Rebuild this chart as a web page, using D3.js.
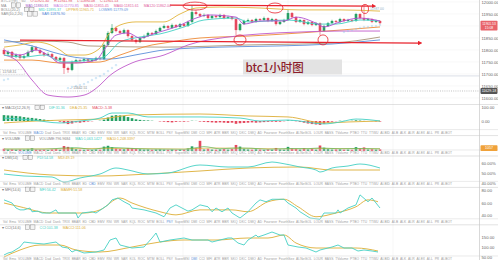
<!DOCTYPE html>
<html>
<head>
<meta charset="utf-8">
<script src="https://cdn.jsdelivr.net/npm/d3@7"></script>
<style>
  html, body { margin: 0; padding: 0; background: #fff; }
  svg { display: block; }
</style>
</head>
<body>
<script>
// ---- data (1h BTC candles, index 0..94) ----
const FIRST_OPEN = 11800;
const CLOSES = [
  11783, 11792, 11771, 11779, 11767, 11775, 11792, 11812, 11800, 11787,
  11779, 11783, 11771, 11758, 11767, 11725, 11717, 11750, 11758, 11754,
  11762, 11754, 11758, 11767, 11762, 11821, 11871, 11892, 11879, 11871,
  11883, 11858, 11842, 11833, 11850, 11858, 11871, 11867, 11879, 11892,
  11900, 11892, 11904, 11896, 11908, 11900, 11917, 11958, 11950, 11942,
  11946, 11933, 11942, 11937, 11946, 11933, 11937, 11929, 11883, 11908,
  11921, 11925, 11917, 11929, 11925, 11933, 11921, 11929, 11908, 11917,
  11925, 11954, 11937, 11917, 11925, 11908, 11917, 11904, 11912, 11879,
  11900, 11912, 11921, 11917, 11929, 11921, 11925, 11921, 11950, 11933,
  11925, 11929, 11917, 11921, 11912
];
const HIGHS = [
  11808, 11798, 11796, 11786, 11784, 11781, 11798, 11820, 11816, 11804,
  11792, 11790, 11787, 11775, 11772, 11770, 11730, 11756, 11764, 11762,
  11768, 11766, 11764, 11772, 11771, 11826, 11878, 11908, 11898, 11884,
  11889, 11886, 11862, 11846, 11855, 11864, 11876, 11875, 11885, 11897,
  11906, 11904, 11910, 11908, 11913, 11912, 11922, 11987, 11966, 11955,
  11952, 11950, 11947, 11946, 11951, 11950, 11943, 11941, 11932, 11913,
  11926, 11931, 11929, 11934, 11933, 11939, 11936, 11934, 11932, 11922,
  11930, 11967, 11958, 11940, 11930, 11928, 11922, 11920, 11917, 11915,
  11905, 11917, 11926, 11925, 11934, 11932, 11930, 11928, 11955, 11953,
  11987, 11934, 11932, 11926, 11924
];
const LOWS = [
  11778, 11776, 11765, 11766, 11760, 11762, 11771, 11788, 11795, 11782,
  11772, 11775, 11766, 11752, 11752, 11700, 11705, 11712, 11745, 11748,
  11750, 11749, 11750, 11754, 11757, 11758, 11816, 11866, 11874, 11865,
  11866, 11852, 11836, 11826, 11829, 11846, 11854, 11861, 11863, 11875,
  11888, 11886, 11888, 11891, 11892, 11895, 11896, 11912, 11944, 11936,
  11937, 11928, 11929, 11931, 11933, 11928, 11929, 11924, 11860, 11878,
  11904, 11917, 11912, 11913, 11920, 11921, 11916, 11917, 11902, 11904,
  11913, 11921, 11932, 11912, 11913, 11903, 11904, 11899, 11900, 11860,
  11875, 11896, 11908, 11912, 11913, 11916, 11917, 11916, 11917, 11928,
  11920, 11921, 11912, 11913, 11907
];
const VOLUMES = [
  820, 640, 700, 560, 610, 520, 760, 980, 600, 540,
  580, 450, 620, 700, 480, 1800, 1500, 1200, 700, 520,
  480, 560, 430, 600, 520, 1600, 1900, 1400, 900, 700,
  650, 1100, 950, 800, 700, 560, 640, 500, 620, 700,
  580, 520, 640, 480, 600, 540, 900, 1700, 1000, 3700,
  600, 820, 560, 500, 620, 700, 540, 760, 2200, 1600,
  800, 600, 520, 640, 560, 480, 700, 560, 1100, 620,
  540, 1500, 900, 800, 560, 1000, 620, 860, 540, 2000,
  1200, 700, 560, 600, 640, 520, 560, 480, 1400, 900,
  1300, 600, 700, 560, 620
];
const MACD_HIST = [
  42, 40, 38, 36, 33, 28, 24, 22, 18, 14,
  10, 6, 3, 0, -5, -15, -22, -18, -10, -12,
  -8, -4, -2, 0, 2, 10, 25, 38, 42, 40,
  36, 28, 20, 12, 8, 5, 4, 2, 0, -3,
  -5, -8, -10, -6, -4, -5, -3, 2, 1, -4,
  -6, -8, -10, -12, -10, -12, -14, -12, -20, -16,
  -14, -12, -10, -12, -10, -8, -6, -5, -6, -5,
  -2, 4, 3, -2, -6, -12, -18, -22, -25, -28,
  -20, -12, -5, -2, 2, 1, 0, 2, 5, 3,
  1, 0, -1, -3, -4
];

// overlay lines on the price pane: [candle index, price]
const MA_FAST = [[0,11800],[4,11779],[8,11800],[11,11779],[14,11746],[18,11746],[23,11758],[25,11800],[28,11862],[31,11871],[34,11850],[38,11871],[43,11896],[48,11933],[51,11946],[58,11937],[60,11908],[64,11921],[70,11921],[73,11937],[78,11912],[80,11896],[84,11917],[89,11933],[94,11921]];
const MA_MID = [[0,11779],[5,11771],[10,11779],[15,11750],[21,11758],[25,11771],[29,11833],[34,11854],[39,11867],[45,11896],[50,11925],[58,11933],[61,11917],[71,11925],[79,11908],[83,11908],[89,11925],[94,11921]];
const MA_SLOW = [[0,11758],[7,11758],[14,11746],[24,11750],[29,11779],[37,11821],[40,11829],[49,11850],[61,11858],[74,11871],[84,11883],[94,11896]];
const MA_LONG = [[0,11842],[7,11817],[14,11783],[19,11767],[26,11762],[34,11783],[40,11800],[54,11812],[69,11817],[82,11825],[94,11842]];
const MA_BASE = [[0,11833],[9,11837],[16,11833],[21,11817],[40,11812],[61,11821],[82,11829],[94,11854]];
const BOLL_UP = [[0,11812],[4,11821],[8,11833],[11,11825],[14,11800],[16,11779],[20,11779],[24,11808],[26,11862],[29,11904],[33,11917],[40,11917],[44,11950],[48,11975],[54,11979],[64,11975],[74,11967],[84,11967],[94,11962]];
const BOLL_LOW = [[0,11779],[3,11758],[7,11675],[11,11612],[16,11604],[20,11612],[24,11654],[26,11687],[32,11746],[40,11779],[46,11821],[56,11854],[64,11867],[74,11875],[84,11879],[94,11879]];
const SAR = [[0,11675],[1,11679],[16,11641],[17,11646],[18,11650],[19,11654],[20,11658],[21,11666],[22,11675],[23,11683],[24,11691],[25,11700],[26,11712],[27,11725],[28,11737],[85,11875],[86,11879],[87,11883],[88,11887],[89,11892],[90,11896],[91,11896],[92,11900],[93,11900],[94,11904]];

// hand drawn marks: lines and rings in [index, price]
const TREND_LINES = [[[41.5,11987],[92.5,11983]], [[4,11841],[104,11829]]];
const RINGS = [[47.75,11983,12,4],[67.75,11975,8,5],[90.25,11971,3.5,4.5],[59,11842,6,5],[79.75,11842,5,5]];

// lower panes
const DIF = [[0,21],[7,7],[14,-14],[19,0],[24,21],[27,57],[31,57],[36,29],[49,29],[59,21],[64,0],[71,7],[80,-21],[84,-7],[88,14],[94,0]];
const DEA = [[0,-14],[8,0],[15,7],[24,14],[32,43],[49,50],[61,36],[71,29],[80,-14],[86,-7],[94,0]];
const VOL_MA5 = [[0,700],[10,650],[15,1100],[18,1200],[22,600],[26,1300],[30,1100],[36,700],[45,600],[48,1200],[50,1600],[54,800],[58,1100],[62,1000],[66,600],[71,900],[76,850],[79,1100],[84,800],[88,900],[94,750]];
const VOL_MA10 = [[0,680],[15,800],[25,950],[35,850],[45,700],[52,1100],[60,1000],[70,750],[80,900],[94,820]];
const DMI_PDI = [[0,49],[5,47],[12,46],[15,41],[19,45],[24,49],[28,55],[31,53],[36,49],[41,50],[49,58],[56,56],[61,56],[67,61],[69,60],[74,56],[78,53],[79,51],[82,55],[86,57],[89,59],[94,55]];
const DMI_MDI = [[0,53],[12,48],[24,47],[36,49],[49,52],[61,55],[74,56],[82,53],[94,53]];
const MFI = [[0,65],[2,60],[3,52],[4,49],[5,49],[6.5,52],[7,46],[8.5,47],[9.5,44],[11.5,44],[13,49],[13.5,44],[18,44],[18.5,36],[19.5,44],[22,46],[23,44],[26,57],[27,65],[28.5,68],[30,62],[31.5,57],[32,52],[35,49],[38,44],[40,38],[41.5,52],[43,57],[44.5,52],[46,47],[47,49],[49,57],[51,54],[52,46],[53,52],[54.5,46],[56,52],[57,44],[59,36],[61,46],[63,60],[64,65],[65.5,62],[67,66],[70,66],[71,60],[73,52],[74,46],[76.5,36],[79,34],[80,44],[83,44],[83.5,49],[84,44],[86,52],[88,57],[89,73],[91,62],[92,68],[94,52]];
const MA_MFI = [[0,60],[4,54],[11.5,44],[20,44],[24,49],[29,68],[32,60],[39,46],[43,41],[49,49],[57,49],[61,46],[66,62],[70,66],[73.5,54],[78,38],[83,44],[88,54],[91,65],[93.5,62]];
const CCI = [[0,60],[1,70],[2,75],[4,100],[5,125],[7,120],[10,115],[11.5,120],[13,125],[14.5,100],[16,95],[17,75],[18,85],[20,70],[23,75],[25,85],[26.5,135],[28,145],[29,110],[31,100],[32,95],[35,100],[37,145],[38,170],[39,125],[41.5,135],[45,145],[47,135],[51,135],[52,125],[56,145],[57,145],[58.5,120],[60,110],[61,135],[63,160],[63.5,150],[65,160],[67,175],[69,160],[70,160],[71,110],[73.5,100],[75.5,95],[78,75],[79,85],[82,100],[83.5,110],[85,95],[87,95],[88.5,80],[90,85],[92,80],[93.5,75]];
const MA_CCI = [[0,50],[4,85],[9,110],[14,110],[18,85],[24,75],[32,100],[39,125],[45,135],[53,135],[61,145],[66,145],[70,160],[73,120],[78,95],[83,95],[88,95],[93.5,80]];

// axis ticks and price tags (the 11900 tick sits under the last-price tag)
const MAIN_TICKS = [12000, 11950, 11850, 11800, 11750, 11700, 11650, 11600];
const GRID_TICKS = [12000, 11950, 11900, 11850, 11800, 11750, 11700, 11650, 11600];
const MACD_TICKS = [100, 0];
const DMI_TICKS = [60, 50, 40];
const MFI_TICKS = [80, 60, 40];
const CCI_TICKS = [150, 100, 50];
const LAST_PRICE = 11901.53;
const LAST_COUNTDOWN = '15:08';
const MARK_PRICE = 11629.18;
const REF_PRICE = 11692;
const VOL_TAG = 1057;

const TAB_WORDS = ['Vol', 'Ema', 'VOLUME', 'MACD', 'Dad', 'Dank', 'TRIX', 'BBAR', 'ED', 'CBD', 'EMV', 'RSI', 'WR', 'SAR',
  'KQL', 'ROC', 'MTM', 'BOLL', 'PSY', 'SuperMSI', 'DMI', 'CCI', 'MFI', 'ATR', 'BBR', 'SKQ', 'DKC', 'DMQ', 'AD',
  'Fourseer', 'FourthSee', 'AI-NetSOL', 'LOUR', 'BASS', 'TVolume', 'PTBO', 'TTU', 'TTWU', 'AI-BID', 'AI-B',
  'AI-K', 'AI-R', 'AI-EX', 'AI-L', 'PR', 'AI-BOT'];

// ---- layout & style ----
const W = 498;
const H = 260;
const AXIS_X = 479.5;
const FONT = '"Liberation Sans", Arial, sans-serif';
const UP = '#27a065';
const DOWN = '#e5485e';
const TEAL = '#45d0c4';
const GOLD = '#dcae36';
const MARK_RED = '#e8232d';

const svg = d3.select('body').append('svg')
  .attr('width', W)
  .attr('height', H)
  .attr('font-family', FONT);

svg.append('defs').append('marker')
  .attr('id', 'arrow')
  .attr('viewBox', '0 0 10 10')
  .attr('refX', 5).attr('refY', 5)
  .attr('markerWidth', 4).attr('markerHeight', 4)
  .attr('orient', 'auto')
  .append('path')
  .attr('d', 'M0,0L10,5L0,10z')
  .attr('fill', MARK_RED);

const x = d3.scaleLinear().domain([0, 94]).range([4, 380]);
const yMain = d3.scaleLinear().domain([11600, 12000]).range([98, 2]);
const yMacd = d3.scaleLinear().domain([0, 100]).range([121, 107]);
const yVol = d3.scaleLinear().domain([0, 4000]).range([151, 140]);
const yDmi = d3.scaleLinear().domain([40, 60]).range([183, 163]);
const yMfi = d3.scaleLinear().domain([40, 80]).range([215.5, 190.5]);
const yCci = d3.scaleLinear().domain([50, 150]).range([257, 237]);

const candles = CLOSES.map((c, i) => ({
  i, c,
  o: i ? CLOSES[i - 1] : FIRST_OPEN,
  h: HIGHS[i],
  l: LOWS[i],
}));

function hline(y, x1, x2, color, dash) {
  svg.append('line')
    .attr('x1', x1).attr('x2', x2)
    .attr('y1', y).attr('y2', y)
    .attr('stroke', color)
    .attr('stroke-width', 0.6)
    .attr('stroke-dasharray', dash || null);
}

function drawLine(pts, y, color, curve, width) {
  svg.append('path')
    .datum(pts)
    .attr('fill', 'none')
    .attr('stroke', color)
    .attr('stroke-width', width || 0.9)
    .attr('stroke-linejoin', 'round')
    .attr('d', d3.line()
      .x(d => x(d[0]))
      .y(d => y(d[1]))
      .curve(curve || d3.curveMonotoneX));
}

function rightAxis(scale, ticks, fmt) {
  const g = svg.append('g')
    .attr('transform', `translate(${AXIS_X + 2},0)`)
    .call(d3.axisRight(scale).tickValues(ticks).tickFormat(fmt).tickSize(0).tickPadding(0));
  g.select('.domain').remove();
  g.attr('font-size', 4.2).attr('font-family', FONT).attr('color', '#666');
}

function labelRow(y, items, x0) {
  const g = svg.append('g').attr('font-size', 3.6);
  let cx = x0;
  for (const [txt, col] of items) {
    if (txt === null) {
      for (let k = 0; k < 2; k++) {
        g.append('rect')
          .attr('x', cx + k * 5.2).attr('y', y - 3.7)
          .attr('width', 4.2).attr('height', 4.4)
          .attr('fill', '#f3f3f3')
          .attr('stroke', '#7a7a7a')
          .attr('stroke-width', 0.4);
      }
      cx += 14;
      continue;
    }
    const t = g.append('text').attr('x', cx).attr('y', y).attr('fill', col).text(txt);
    cx += t.node().getComputedTextLength() + 5;
  }
}

function tabRow(y, hi) {
  hline(y - 4, 0, W, '#dcdcdc');
  hline(y + 2, 0, W, '#cfcfcf');
  const g = svg.append('g').attr('font-size', 3.3).attr('fill', '#a0a0a0');
  const nodes = TAB_WORDS.map(w => g.append('text').attr('y', y).text(w));
  const widths = nodes.map(n => n.node().getComputedTextLength());
  const gap = (452 - 3 - d3.sum(widths)) / (TAB_WORDS.length - 1);
  let cx = 3;
  nodes.forEach((n, k) => {
    n.attr('x', cx);
    if (k === hi) n.attr('fill', '#5b8fd6');
    cx += widths[k] + gap;
  });
}

// faint grid
for (const t of GRID_TICKS) hline(yMain(t), 0, AXIS_X, '#f3f3f3');
for (const gi of [18.5, 44.75, 71, 97.25]) {
  svg.append('line')
    .attr('x1', x(gi)).attr('x2', x(gi))
    .attr('y1', 0).attr('y2', H)
    .attr('stroke', '#f1f1f1').attr('stroke-width', 0.6);
}

// ---- price pane ----
hline(yMain(REF_PRICE), 0, AXIS_X, '#c5c9d6');
hline(yMain(MARK_PRICE), 0, AXIS_X, '#9a9a9a', '1,1.2');

svg.append('rect')
  .attr('x', 243).attr('y', 59.5)
  .attr('width', 99).attr('height', 15)
  .attr('fill', '#e3e3e3');
svg.append('text')
  .attr('x', 245.5).attr('y', 71.5)
  .attr('font-family', '"Noto Sans CJK SC", "Noto Sans", sans-serif')
  .attr('font-size', 11.5)
  .attr('font-weight', 500)
  .attr('fill', '#8c1d2c')
  .text('btc1小时图');

const candleG = svg.append('g');
candleG.selectAll('line')
  .data(candles)
  .join('line')
  .attr('x1', d => x(d.i)).attr('x2', d => x(d.i))
  .attr('y1', d => yMain(d.h)).attr('y2', d => yMain(d.l))
  .attr('stroke', d => d.c >= d.o ? UP : DOWN)
  .attr('stroke-width', 0.6);
candleG.selectAll('rect')
  .data(candles)
  .join('rect')
  .attr('x', d => x(d.i) - 1.3)
  .attr('width', 2.6)
  .attr('y', d => yMain(Math.max(d.o, d.c)))
  .attr('height', d => Math.max(0.8, Math.abs(yMain(d.o) - yMain(d.c))))
  .attr('fill', d => d.c >= d.o ? UP : DOWN);

drawLine(MA_BASE, yMain, '#a89478');
drawLine(MA_LONG, yMain, '#5b8fd9');
drawLine(MA_SLOW, yMain, '#ee8a35');
drawLine(BOLL_LOW, yMain, '#c05acb');
drawLine(BOLL_UP, yMain, '#e2b43c');
drawLine(MA_MID, yMain, TEAL);
drawLine(MA_FAST, yMain, '#b04fd0');

svg.append('g').selectAll('circle')
  .data(SAR)
  .join('circle')
  .attr('cx', d => x(d[0]))
  .attr('cy', d => yMain(d[1]))
  .attr('r', 0.8)
  .attr('fill', 'none')
  .attr('stroke', '#8ec5ea')
  .attr('stroke-width', 0.4);

// hand drawn annotations
for (const [a, b] of TREND_LINES) {
  svg.append('line')
    .attr('x1', x(a[0])).attr('y1', yMain(a[1]))
    .attr('x2', x(b[0])).attr('y2', yMain(b[1]))
    .attr('stroke', MARK_RED)
    .attr('stroke-width', 1.2)
    .attr('marker-end', 'url(#arrow)');
}
svg.append('g').selectAll('ellipse')
  .data(RINGS)
  .join('ellipse')
  .attr('cx', d => x(d[0]))
  .attr('cy', d => yMain(d[1]))
  .attr('rx', d => d[2])
  .attr('ry', d => d[3])
  .attr('fill', 'none')
  .attr('stroke', MARK_RED)
  .attr('stroke-width', 0.8);

// small price notes on the chart
svg.append('rect')
  .attr('x', 0.5).attr('y', yMain(11708) - 2.5)
  .attr('width', 24).attr('height', 5)
  .attr('fill', 'none').attr('stroke', '#aaa')
  .attr('stroke-width', 0.4).attr('stroke-dasharray', '0.8,0.8');
svg.append('text').attr('x', 2.5).attr('y', yMain(11708) + 1.3)
  .attr('font-size', 3.4).attr('fill', '#888').text('11708.31');
svg.append('text').attr('x', x(16) + 1).attr('y', yMain(11641) + 1.2)
  .attr('font-size', 3.4).attr('fill', '#888').text('← 11642.51');
svg.append('text').attr('x', x(91.5)).attr('y', yMain(11965))
  .attr('font-size', 3.4).attr('fill', '#8fb3c8').text('11987.00');

// legend rows of the price pane
labelRow(2.4, [['BTC1小时 · 60', '#999'], ['O:11925.30', '#e5485e'], ['H:11941.98', '#e5485e'], ['L:11890.08', '#e5485e'], ['C:11901.53', '#e5485e']], 1);
labelRow(6.6, [['MA', '#888'], [null], ['MA5:11880.81', '#a25bc6'], ['MA10:11770.85', '#c678dd'], ['MA30:11855.45', '#e0609c'], ['MA60:11815.61', '#e0609c'], ['MA120:11862.04', '#e0609c']], 1);
labelRow(11, [['BOLL(20,2)', '#888'], [null], ['MID:11895.37', TEAL], ['UPPER:11965.71', GOLD], ['LOWER:11779.09', '#5b8fd9']], 1);
labelRow(15.4, [['SAR(10,2,20)', '#888'], [null], ['SAR:11876.90', '#4a7fd6']], 1);

// ---- MACD ----
hline(104.5, 0, W, '#cfcfcf');
labelRow(109, [['▾ MACD(12,26,9)', '#777'], [null], ['DIF:31.36', TEAL], ['DEA:25.35', GOLD], ['MACD:-5.38', DOWN]], 2);
svg.append('g').selectAll('rect')
  .data(MACD_HIST)
  .join('rect')
  .attr('x', (d, i) => x(i) - 1.3)
  .attr('width', 2.6)
  .attr('y', d => yMacd(Math.max(0, d)))
  .attr('height', d => Math.abs(yMacd(d) - yMacd(0)))
  .attr('fill', d => d >= 0 ? UP : DOWN);
drawLine(DEA, yMacd, GOLD);
drawLine(DIF, yMacd, TEAL);
tabRow(133.6, 3);

// ---- volume ----
labelRow(139.6, [['▾ VOLUME', '#777'], [null], ['VOLUME:796.9684', '#888'], ['MA5:1,063.1427', TEAL], ['MA10:1,248.3397', GOLD]], 2);
svg.append('g').selectAll('rect')
  .data(VOLUMES)
  .join('rect')
  .attr('x', (d, i) => x(i) - 1.3)
  .attr('width', 2.6)
  .attr('y', d => yVol(d))
  .attr('height', d => yVol(0) - yVol(d))
  .attr('fill', (d, i) => candles[i].c >= candles[i].o ? UP : DOWN);
drawLine(VOL_MA10, yVol, GOLD, d3.curveMonotoneX, 0.7);
drawLine(VOL_MA5, yVol, '#5cb85c', d3.curveMonotoneX, 0.7);
tabRow(154, 2);

// ---- DMI ----
labelRow(159, [['▾ DMI(14)', '#777'], [null], ['PDI:54.58', TEAL], ['MDI:49.19', GOLD]], 2);
drawLine(DMI_MDI, yDmi, GOLD);
drawLine(DMI_PDI, yDmi, TEAL);
tabRow(185.4, 9);

// ---- MFI ----
labelRow(190.8, [['▾ MFI(14,6)', '#777'], [null], ['MFI:56.42', TEAL], ['MAMFI:51.58', GOLD]], 2);
drawLine(MA_MFI, yMfi, GOLD);
drawLine(MFI, yMfi, TEAL, d3.curveLinear);
tabRow(222.8, 18);

// ---- CCI ----
labelRow(228.6, [['▾ CCI(14,6)', '#777'], [null], ['CCI:101.38', TEAL], ['MACCI:111.06', GOLD]], 2);
drawLine(MA_CCI, yCci, GOLD);
drawLine(CCI, yCci, TEAL, d3.curveLinear);
tabRow(260, 20);

// ---- right axis ----
svg.append('line')
  .attr('x1', AXIS_X).attr('x2', AXIS_X)
  .attr('y1', 0).attr('y2', H)
  .attr('stroke', '#c8c8c8').attr('stroke-width', 0.7);

rightAxis(yMain, MAIN_TICKS, d3.format('.2f'));
rightAxis(yMacd, MACD_TICKS, d3.format('.2f'));
rightAxis(yDmi, DMI_TICKS, d => d3.format('.2f')(d) + '%');
rightAxis(yMfi, MFI_TICKS, d3.format('.2f'));
rightAxis(yCci, CCI_TICKS, d3.format('.2f'));

function tag(y, fill, lines, fs) {
  const h = lines.length * (fs + 1) + 1.2;
  svg.append('rect')
    .attr('x', AXIS_X + 1).attr('y', y - h / 2)
    .attr('width', 17).attr('height', h)
    .attr('rx', 0.8)
    .attr('fill', fill);
  lines.forEach((t, k) => {
    svg.append('text')
      .attr('x', AXIS_X + 9.5)
      .attr('y', y - h / 2 + 0.6 + (k + 1) * (fs + 1) - 1.1)
      .attr('text-anchor', 'middle')
      .attr('font-size', fs)
      .attr('fill', '#fff')
      .text(t);
  });
}
tag(yMain(LAST_PRICE), '#e8646a', [d3.format('.2f')(LAST_PRICE), LAST_COUNTDOWN], 3.3);
tag(yMain(MARK_PRICE), '#555', [d3.format('.2f')(MARK_PRICE)], 3.6);
tag(yVol(VOL_TAG), '#f0a23a', [String(VOL_TAG)], 3.6);
</script>
</body>
</html>
